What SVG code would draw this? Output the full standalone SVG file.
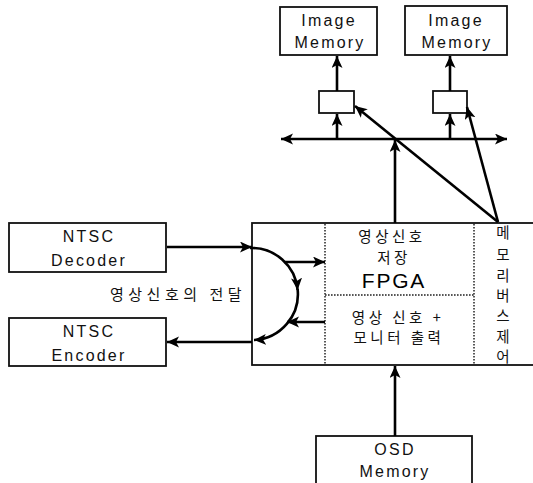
<svg xmlns="http://www.w3.org/2000/svg" width="533" height="483" viewBox="0 0 533 483">
  <style>
    .box { fill: #fff; stroke: #111; stroke-width: 1.8; }
    .div { fill: none; stroke: #222; stroke-width: 1.5; stroke-dasharray: 1.6 1.4; }
    .wire { fill: none; stroke: #000; stroke-width: 2.6; }
    .en { font-family: "Liberation Sans", Arial, sans-serif; font-size: 16px; letter-spacing: 2.2px; fill: #111; text-anchor: middle; }
    .ko { font-family: "Noto Sans CJK KR", "Liberation Sans", sans-serif; font-size: 14.5px; letter-spacing: 3.5px; fill: #111; text-anchor: middle; }
    .big { font-family: "Liberation Sans", Arial, sans-serif; font-size: 21px; letter-spacing: 1.8px; fill: #000; text-anchor: middle; }
  </style>
  <defs>
    <marker id="head" markerUnits="userSpaceOnUse" markerWidth="14" markerHeight="12" refX="12" refY="5.5" orient="auto">
      <path d="M0,0 L12,5.5 L0,11 L3,5.5 Z" fill="#000"/>
    </marker>
  </defs>

  <rect width="533" height="483" fill="#fff"/>

  <!-- image memories -->
  <g id="image-memory-1">
    <rect class="box" x="280" y="7" width="97" height="48"/>
    <text class="en" x="329" y="26">Image</text>
    <text class="en" x="330" y="48">Memory</text>
  </g>
  <g id="image-memory-2">
    <rect class="box" x="405" y="6" width="102" height="49"/>
    <text class="en" x="456" y="26">Image</text>
    <text class="en" x="457" y="48">Memory</text>
  </g>

  <!-- bus buffers -->
  <g id="buffer-1">
    <rect class="box" x="319" y="91" width="35" height="22"/>
  </g>
  <g id="buffer-2">
    <rect class="box" x="433" y="91" width="34" height="22"/>
  </g>

  <!-- NTSC codecs -->
  <g id="ntsc-decoder">
    <rect class="box" x="9" y="223" width="157" height="49"/>
    <text class="en" x="89" y="242">NTSC</text>
    <text class="en" x="89" y="266">Decoder</text>
  </g>
  <g id="ntsc-encoder">
    <rect class="box" x="9" y="318" width="157" height="48"/>
    <text class="en" x="89" y="337">NTSC</text>
    <text class="en" x="89" y="361">Encoder</text>
  </g>

  <text id="transfer-label" class="ko" x="178" y="300" style="font-size:15px;letter-spacing:4.5px">영상신호의 전달</text>

  <!-- FPGA block -->
  <g id="fpga">
    <rect class="box" x="252" y="223" width="290" height="142"/>
    <line class="div" x1="325" y1="224" x2="325" y2="364"/>
    <line class="div" x1="474" y1="224" x2="474" y2="364"/>
    <line class="div" x1="325" y1="295" x2="474" y2="295"/>
    <text class="ko" x="392" y="242">영상신호</text>
    <text class="ko" x="394" y="263">저장</text>
    <text class="big" x="394" y="288">FPGA</text>
    <text class="ko" x="398" y="323">영상 신호 +</text>
    <text class="ko" x="399" y="343">모니터 출력</text>
    <g class="ko" style="letter-spacing:0">
      <text x="503" y="238">메</text>
      <text x="503" y="260">모</text>
      <text x="503" y="281">리</text>
      <text x="503" y="301">버</text>
      <text x="503" y="321">스</text>
      <text x="503" y="342">제</text>
      <text x="503" y="362">어</text>
    </g>
  </g>

  <!-- OSD memory -->
  <g id="osd-memory">
    <rect class="box" x="316" y="436" width="156" height="60"/>
    <text class="en" x="395" y="455">OSD</text>
    <text class="en" x="395" y="477">Memory</text>
  </g>

  <!-- connectors -->
  <g id="connectors">
    <line class="wire" x1="337" y1="91" x2="337" y2="56" marker-end="url(#head)"/>
    <line class="wire" x1="450" y1="91" x2="450" y2="56" marker-end="url(#head)"/>
    <line class="wire" x1="337" y1="139" x2="337" y2="114" marker-end="url(#head)"/>
    <line class="wire" x1="450" y1="139" x2="450" y2="114" marker-end="url(#head)"/>
    <line class="wire" x1="395" y1="139" x2="281" y2="139" marker-end="url(#head)"/>
    <line class="wire" x1="395" y1="139" x2="507" y2="139" marker-end="url(#head)"/>
    <line class="wire" x1="395" y1="223" x2="395" y2="140" marker-end="url(#head)"/>
    <line class="wire" x1="498" y1="222" x2="355" y2="106" marker-end="url(#head)"/>
    <line class="wire" x1="498" y1="222" x2="467" y2="107" marker-end="url(#head)"/>
    <line class="wire" x1="395" y1="436" x2="395" y2="366" marker-end="url(#head)"/>
    <line class="wire" x1="167" y1="247" x2="252" y2="247" marker-end="url(#head)"/>
    <path class="wire" d="M250 248 A46 46 0 0 1 297.6 290" marker-end="url(#head)"/>
    <path class="wire" d="M297.6 289 A46 46 0 0 1 254 340" marker-end="url(#head)"/>
    <line class="wire" x1="284" y1="262" x2="325" y2="262" marker-end="url(#head)"/>
    <line class="wire" x1="325" y1="322" x2="287" y2="322" marker-end="url(#head)"/>
    <line class="wire" x1="252" y1="342" x2="167" y2="342" marker-end="url(#head)"/>
  </g>
</svg>
